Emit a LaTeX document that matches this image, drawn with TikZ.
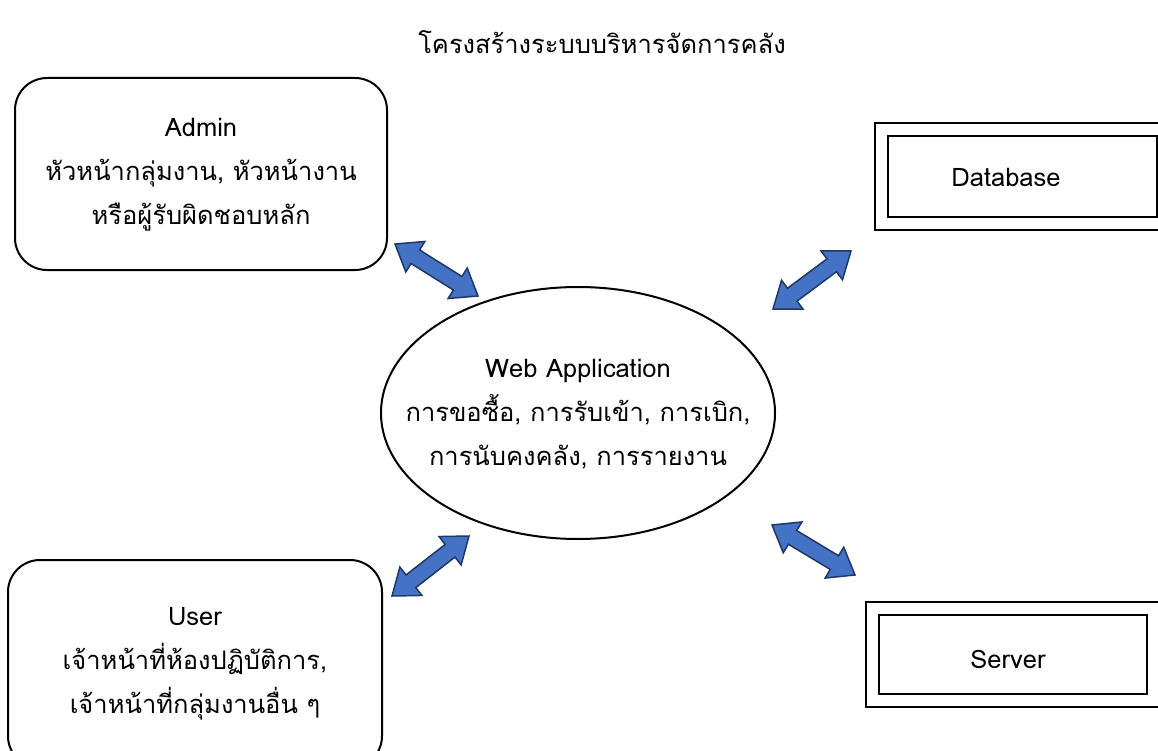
\documentclass[tikz,border=0pt]{standalone}
\usepackage{fontspec}
\setmainfont[Script=Thai]{Loma}
\usetikzlibrary{calc,shapes.geometric}
\definecolor{arrowblue}{HTML}{4472C4}
\definecolor{arrowline}{HTML}{1F3864}
% block double arrow between two named coordinates
\newcommand{\blockarrow}[2]{%
\coordinate (#1h) at ($(#1)!24pt!(#2)$);
\coordinate (#2h) at ($(#2)!24pt!(#1)$);
\filldraw[fill=arrowblue,draw=arrowline,line width=1.5pt,line join=miter]
 (#1) -- ($(#1h)!18pt!90:(#2)$) -- ($(#1h)!8pt!90:(#2)$)
 -- ($(#2h)!8pt!-90:(#1)$) -- ($(#2h)!18pt!-90:(#1)$) -- (#2)
 -- ($(#2h)!18pt!90:(#1)$) -- ($(#2h)!8pt!90:(#1)$)
 -- ($(#1h)!8pt!-90:(#2)$) -- ($(#1h)!18pt!-90:(#2)$) -- cycle;
}
\tikzset{
 txt/.style={align=center,font=\fontsize{25.5}{44}\selectfont},
 rbox/.style={draw,line width=2pt,rounded corners=32pt,inner sep=0pt},
 dbox/.style={draw,line width=2pt,line join=miter,double,double distance=11pt,inner sep=0pt}
}
\begin{document}
\begin{tikzpicture}[line cap=round,line join=round,x=1pt,y=-1pt]
\useasboundingbox (0,0) rectangle (1158,751);
\clip (0,0) rectangle (1158,751);
\node[txt] (title) at (602,42) {โครงสร้างระบบบริหารจัดการคลัง};
% boxes
\node[rbox,minimum width=372pt,minimum height=192pt] (admin) at (201,174) {};
\node[txt] (admintext) at (201,175) {Admin\\หัวหน้ากลุ่มงาน, หัวหน้างาน\\หรือผู้รับผิดชอบหลัก};
\node[rbox,minimum width=374pt,minimum height=208pt] (user) at (195,664) {};
\node[txt] (usertext) at (195,664) {User\\เจ้าหน้าที่ห้องปฏิบัติการ,\\เจ้าหน้าที่กลุ่มงานอื่น ๆ};
\node[draw,ellipse,line width=2pt,minimum width=394pt,minimum height=252pt,inner sep=0pt] (webapp) at (578,413) {};
\node[txt] (webtext) at (578,414) {Web Application\\การขอซื้อ, การรับเข้า, การเบิก,\\การนับคงคลัง, การรายงาน};
\node[dbox,minimum width=282pt,minimum height=94pt] (db) at (1022.5,177) {};
\node[txt] (dbtext) at (1006,177) {Database};
\node[dbox,minimum width=281pt,minimum height=92pt] (server) at (1013,654) {};
\node[txt] (servertext) at (1008,659) {Server};
% arrows
\coordinate (a1) at (395,244); \coordinate (a2) at (478,296);
\coordinate (b1) at (851,251); \coordinate (b2) at (773,309);
\coordinate (c1) at (392,596); \coordinate (c2) at (469,536);
\coordinate (d1) at (772,525); \coordinate (d2) at (855,575);
\blockarrow{a1}{a2}
\blockarrow{b1}{b2}
\blockarrow{c1}{c2}
\blockarrow{d1}{d2}
\end{tikzpicture}
\end{document}
